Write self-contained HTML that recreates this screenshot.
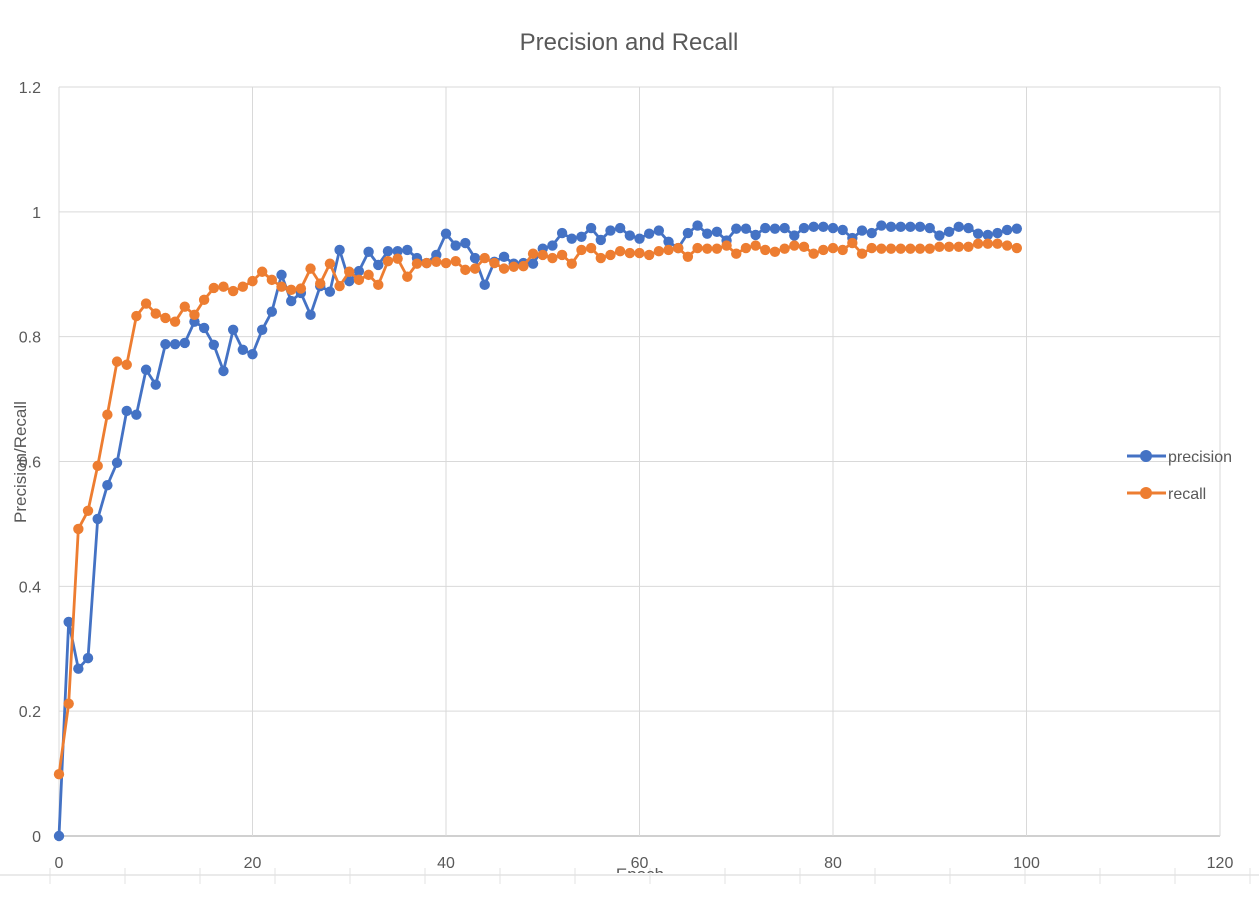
<!DOCTYPE html>
<html><head><meta charset="utf-8"><style>
body{margin:0;background:#fff;width:1259px;height:916px;overflow:hidden;font-family:"Liberation Sans",sans-serif;}
#wrap{position:absolute;left:0;top:0;width:1259px;height:873px;overflow:hidden;}
</style></head><body>
<svg width="1259" height="916" style="position:absolute;left:0;top:0">
<line x1="0" y1="875" x2="1259" y2="875" stroke="#e3e3e3" stroke-width="1.5"/>
<g id="cellticks" stroke="#e3e3e3"></g>
</svg>
<div id="wrap">
<svg id="chart" width="1259" height="873">
<text x="629" y="50" text-anchor="middle" font-size="24" fill="#595959">Precision and Recall</text>
<g id="grid"></g>
<g id="series"></g>
<text transform="translate(26,462) rotate(-90)" text-anchor="middle" font-size="17" fill="#595959">Precision/Recall</text>
<text x="640" y="880" text-anchor="middle" font-size="17" fill="#595959">Epoch</text>
<g>
<g><line x1="1127" y1="456" x2="1166" y2="456" stroke="#4472C4" stroke-width="3"/><circle cx="1146" cy="456" r="6" fill="#4472C4"/><text x="1168" y="462" font-size="16" fill="#595959">precision</text></g>
<g><line x1="1127" y1="493" x2="1166" y2="493" stroke="#ED7D31" stroke-width="3"/><circle cx="1146" cy="493" r="6" fill="#ED7D31"/><text x="1168" y="499" font-size="16" fill="#595959">recall</text></g>
</g>
</svg></div>
<script>
const epochs = Array.from({length:100},(_, i)=>i);
const precision=[0.00,0.343,0.268,0.285,0.508,0.562,0.598,0.681,0.675,0.747,0.723,0.788,0.788,0.79,0.824,0.814,0.787,0.745,0.811,0.779,0.772,0.811,0.84,0.899,0.857,0.87,0.835,0.881,0.872,0.939,0.889,0.905,0.936,0.915,0.937,0.937,0.939,0.926,0.918,0.931,0.965,0.946,0.95,0.926,0.883,0.92,0.928,0.917,0.918,0.917,0.941,0.946,0.966,0.957,0.96,0.974,0.955,0.97,0.974,0.962,0.957,0.965,0.97,0.952,0.942,0.966,0.978,0.965,0.968,0.954,0.973,0.973,0.963,0.974,0.973,0.974,0.962,0.974,0.976,0.976,0.974,0.971,0.958,0.97,0.966,0.978,0.976,0.976,0.976,0.976,0.974,0.962,0.968,0.976,0.974,0.965,0.963,0.966,0.971,0.973];
const recall=[0.099,0.212,0.492,0.521,0.593,0.675,0.76,0.755,0.833,0.853,0.837,0.83,0.824,0.848,0.835,0.859,0.878,0.88,0.873,0.88,0.889,0.904,0.891,0.88,0.875,0.877,0.909,0.885,0.917,0.881,0.904,0.891,0.899,0.883,0.921,0.925,0.896,0.917,0.918,0.92,0.918,0.921,0.907,0.909,0.926,0.918,0.909,0.912,0.913,0.933,0.931,0.926,0.931,0.917,0.939,0.942,0.926,0.931,0.937,0.934,0.934,0.931,0.937,0.939,0.942,0.928,0.942,0.941,0.941,0.946,0.933,0.942,0.946,0.939,0.936,0.941,0.946,0.944,0.933,0.939,0.942,0.939,0.95,0.933,0.942,0.941,0.941,0.941,0.941,0.941,0.941,0.944,0.944,0.944,0.944,0.949,0.949,0.949,0.946,0.942];
const xTicks=[0,20,40,60,80,100,120];
const yTicks=[0,0.2,0.4,0.6,0.8,1,1.2];
const NS="http://www.w3.org/2000/svg";
const L=59,R=1220,T=87,B=836;
const xs=v=>L+(v-0)/(120)*(R-L);
const ys=v=>B-v/1.2*(B-T);
function mk(tag,at,parent){const e=document.createElementNS(NS,tag);for(const k in at)e.setAttribute(k,at[k]);parent.appendChild(e);return e;}
const grid=document.getElementById('grid');
yTicks.forEach(t=>{
 const l=mk('line',{x1:L,x2:R,y1:ys(t),y2:ys(t),stroke:t===0?'#d0d0d0':'#d9d9d9','stroke-width':t===0?2:1},grid);
 
 
 const tx=mk('text',{x:41,y:ys(t)+6,'text-anchor':'end','font-size':16,fill:'#595959'},grid);
 tx.textContent=String(t);
 
 
});
xTicks.forEach(t=>{
 const l=mk('line',{x1:xs(t),x2:xs(t),y1:T,y2:B,stroke:'#d9d9d9','stroke-width':1},grid);
 
 
 const tx=mk('text',{x:xs(t),y:868,'text-anchor':'middle','font-size':16,fill:'#595959'},grid);
 tx.textContent=String(t);
 
 
});
const ser=document.getElementById('series');
function draw(vals,color,name){
 const g=mk('g',{},ser);
 
 
 const p=mk('polyline',{points:vals.map((v,i)=>xs(epochs[i])+','+ys(v)).join(' '),fill:'none',stroke:color,'stroke-width':2.8,'stroke-linejoin':'round'},g);
 
 
 vals.forEach((v,i)=>{
  const c=mk('circle',{cx:xs(epochs[i]),cy:ys(v),r:5.2,fill:color},g);
  
  
 });
}
draw(precision,'#4472C4','precision');
draw(recall,'#ED7D31','recall');
const ct=document.getElementById('cellticks');
for(let x=50;x<1259;x+=75){mk('line',{x1:x,x2:x,y1:868,y2:884},ct);}
</script>
</body></html>
